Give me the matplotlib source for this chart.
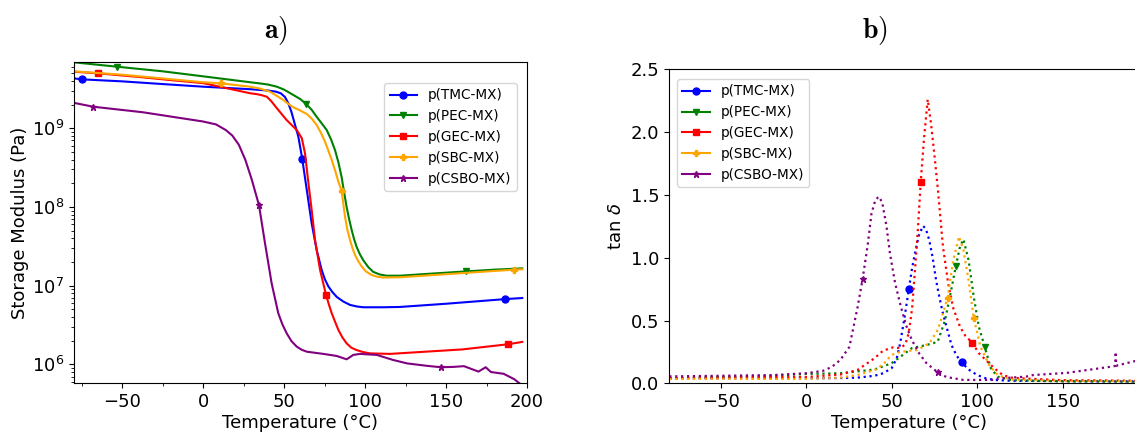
import matplotlib
matplotlib.use("Agg")
import matplotlib.pyplot as plt
from matplotlib.lines import Line2D
from matplotlib.ticker import MultipleLocator

# ---- a) storage modulus (Pa) vs temperature
tmc_T = [-80, -75, -50, -25, 0, 29, 40, 45, 48, 50.5, 52.5, 54.5, 56.5, 58.8, 61.2, 64, 67, 70.1, 73.2, 75.2, 77.3, 79.8, 82.5, 86.5, 90.7, 94.8, 98.9, 111.2, 121.5, 150, 186.6, 197]
tmc_E = [4.32e9, 4.19e9, 3.95e9, 3.65e9, 3.38e9, 3.14e9, 3.02e9, 2.92e9, 2.78e9, 2.5e9, 2.1e9, 1.62e9, 1.15e9, 7.8e8, 4.07e8, 1.64e8, 6.2e7, 2.84e7, 1.58e7, 1.2e7, 9.8e6, 8.3e6, 7.2e6, 6.3e6, 5.7e6, 5.45e6, 5.32e6, 5.32e6, 5.37e6, 5.9e6, 6.76e6, 6.97e6]
pec_T = [-80, -53.3, -25, -2, 29, 35, 40, 45.5, 50, 55.7, 60, 63.5, 67, 70.1, 73, 76.3, 79, 81.4, 83.5, 85.5, 87, 88.6, 90, 91.7, 93.2, 94.8, 96.8, 98.9, 102, 105, 109, 113.3, 121.5, 140, 162.3, 180, 197]
pec_E = [6.9e9, 6.07e9, 5.3e9, 4.63e9, 3.85e9, 3.72e9, 3.6e9, 3.38e9, 3.1e9, 2.65e9, 2.35e9, 2.04e9, 1.72e9, 1.4e9, 1.17e9, 9.5e8, 7.2e8, 5.3e8, 3.7e8, 2.4e8, 1.55e8, 1.0e8, 7.2e7, 5.1e7, 3.9e7, 3.1e7, 2.5e7, 2.1e7, 1.72e7, 1.5e7, 1.39e7, 1.34e7, 1.34e7, 1.42e7, 1.52e7, 1.6e7, 1.66e7]
gec_T = [-80, -65.1, -40, -20, 0, 29, 33, 36, 39.3, 42, 45.5, 51.6, 57.8, 60.9, 62.9, 65, 67, 69.1, 72.2, 75.9, 77.6, 79.4, 81.4, 83.5, 86, 88.6, 91.5, 94.8, 98.5, 103, 115.4, 130, 160, 188, 197]
gec_E = [5.24e9, 5.0e9, 4.5e9, 4.1e9, 3.75e9, 2.79e9, 2.72e9, 2.64e9, 2.52e9, 2.22e9, 1.8e9, 1.27e9, 9.5e8, 7.5e8, 4.8e8, 2.0e8, 9.2e7, 3.8e7, 1.58e7, 7.6e6, 5.8e6, 4.46e6, 3.5e6, 2.74e6, 2.2e6, 1.85e6, 1.63e6, 1.52e6, 1.44e6, 1.38e6, 1.36e6, 1.42e6, 1.55e6, 1.8e6, 1.93e6]
sbc_T = [-80, -50, -25, 0, 11.3, 29, 35, 41.3, 45, 49.5, 52.5, 55.7, 60, 64, 67, 70.1, 72.7, 75.2, 77.3, 79.4, 81.5, 83.5, 85.5, 87.6, 89, 90.7, 92.2, 93.8, 95.8, 97.9, 100.5, 104, 107.5, 111.2, 121.5, 150, 192, 197]
sbc_E = [5.3e9, 4.8e9, 4.3e9, 3.85e9, 3.72e9, 3.38e9, 3.2e9, 2.92e9, 2.62e9, 2.29e9, 2.05e9, 1.85e9, 1.68e9, 1.52e9, 1.33e9, 1.1e9, 8.8e8, 6.8e8, 5.2e8, 3.95e8, 2.9e8, 2.1e8, 1.61e8, 7.5e7, 5.2e7, 3.8e7, 3.0e7, 2.45e7, 2.05e7, 1.75e7, 1.52e7, 1.37e7, 1.3e7, 1.27e7, 1.28e7, 1.4e7, 1.6e7, 1.62e7]
csbo_T = [-80, -67.8, -37.3, 0, 8, 14, 18, 22, 26, 30, 34.5, 38.2, 42.3, 46.4, 49, 51.6, 54.5, 57.8, 61, 64, 74.2, 82.5, 88.6, 92.7, 96.9, 107.2, 117.2, 125.9, 138, 146.8, 154.6, 161, 170, 174.4, 177.7, 185.5, 192, 196]
csbo_E = [2.11e9, 1.88e9, 1.6e9, 1.22e9, 1.12e9, 9.5e8, 8.1e8, 6.2e8, 4.0e8, 2.24e8, 1.05e8, 3.46e7, 1.07e7, 4.46e6, 3.2e6, 2.48e6, 1.98e6, 1.68e6, 1.53e6, 1.45e6, 1.36e6, 1.28e6, 1.16e6, 1.32e6, 1.36e6, 1.32e6, 1.14e6, 1.03e6, 9.6e5, 9.2e5, 9.3e5, 9.5e5, 8.1e5, 9.2e5, 8.0e5, 7.6e5, 6.5e5, 5.6e5]

# temperatures where a marker sits on each curve
tmc_mk = [-75, 61.2, 186.6]
pec_mk = [-53.3, 63.5, 162.3]
gec_mk = [-65.1, 75.9, 188]
sbc_mk = [11.3, 85.5, 192]
csbo_mk = [-67.8, 34.5, 146.8]

# ---- b) tan delta vs temperature
tmc_Tb = [-80, -50, -20, 0, 20, 30, 40, 45, 50, 53, 55, 57.5, 60.1, 62, 64, 66, 68.3, 70, 72, 74, 76, 78, 80, 82.5, 85, 88, 90.9, 95, 100, 105, 110, 120, 150, 200]
tmc_tan = [0.04, 0.04, 0.04, 0.04, 0.042, 0.045, 0.06, 0.08, 0.12, 0.2, 0.32, 0.52, 0.754, 0.92, 1.06, 1.18, 1.253, 1.23, 1.14, 1.0, 0.82, 0.68, 0.557, 0.43, 0.305, 0.22, 0.167, 0.11, 0.066, 0.04, 0.027, 0.02, 0.018, 0.015]
pec_Tb = [-80, -50, -20, 0, 20, 30, 40, 50, 55, 61.8, 70.4, 76.9, 81.2, 84.5, 87.6, 90, 92, 95, 98, 101, 104.4, 108, 112, 120, 150, 200]
pec_tan = [0.04, 0.05, 0.06, 0.075, 0.08, 0.095, 0.11, 0.16, 0.21, 0.28, 0.305, 0.33, 0.5, 0.72, 0.937, 1.09, 1.146, 0.98, 0.69, 0.45, 0.292, 0.12, 0.053, 0.025, 0.015, 0.012]
gec_Tb = [-80, -50, -20, 0, 20, 30, 40, 45, 51, 55, 58, 60, 62, 63.5, 65, 67, 69, 71.1, 73, 75, 77, 80, 83, 86, 90, 93, 97.1, 101, 105, 110, 115, 120, 125, 150, 200]
gec_tan = [0.04, 0.045, 0.05, 0.05, 0.07, 0.106, 0.2, 0.26, 0.287, 0.28, 0.31, 0.4, 0.6, 0.876, 1.15, 1.6, 1.96, 2.26, 2.07, 1.82, 1.55, 1.09, 0.8, 0.6, 0.45, 0.38, 0.324, 0.24, 0.186, 0.12, 0.066, 0.045, 0.04, 0.025, 0.02]
sbc_Tb = [-80, -50, -20, 0, 20, 30, 40, 45, 50, 55, 60, 65, 72, 77, 80, 82.7, 86, 89.4, 92, 95, 98, 102, 107, 112, 120, 150, 200]
sbc_tan = [0.035, 0.035, 0.035, 0.035, 0.045, 0.066, 0.106, 0.15, 0.226, 0.25, 0.258, 0.265, 0.318, 0.425, 0.557, 0.68, 0.98, 1.168, 1.06, 0.82, 0.518, 0.29, 0.146, 0.066, 0.03, 0.02, 0.018]
csbo_Tb = [-80, -50, -20, 0, 10, 15, 20, 25.3, 30, 33, 36, 38.2, 40.5, 42.5, 44.5, 47, 49, 52, 55.4, 58.5, 61.8, 66, 70.4, 76.9, 82, 92, 109, 113.4, 128.5, 132.9, 152.4, 171.9, 179.7, 180.8, 181, 181.3, 192.3, 200]
csbo_tan = [0.055, 0.06, 0.065, 0.08, 0.1, 0.13, 0.186, 0.29, 0.6, 0.828, 1.1, 1.35, 1.46, 1.486, 1.44, 1.25, 1.035, 0.8, 0.61, 0.46, 0.345, 0.24, 0.16, 0.088, 0.05, 0.027, 0.027, 0.04, 0.053, 0.066, 0.083, 0.12, 0.135, 0.14, 0.25, 0.14, 0.177, 0.19]

tmc_mkb = [60.1, 90.9]
pec_mkb = [87.6, 104.4]
gec_mkb = [67, 97.1]
sbc_mkb = [82.7, 98]
csbo_mkb = [33, 76.9]

labels = ['p(TMC-MX)', 'p(PEC-MX)', 'p(GEC-MX)', 'p(SBC-MX)', 'p(CSBO-MX)']
colors = ['blue', 'green', 'red', 'orange', 'purple']
markers = ['o', 'v', 's', 'P', '*']

fig = plt.figure(figsize=(11.35, 4.32), dpi=100)
ax1 = fig.add_axes([0.0648, 0.1127, 0.3996, 0.7431])
ax2 = fig.add_axes([0.5897, 0.1127, 0.4219, 0.7269])

curves_a = [(tmc_T, tmc_E, tmc_mk), (pec_T, pec_E, pec_mk), (gec_T, gec_E, gec_mk),
            (sbc_T, sbc_E, sbc_mk), (csbo_T, csbo_E, csbo_mk)]
for (t, e, mk), lab, c, m in zip(curves_a, labels, colors, markers):
    idx = [t.index(v) for v in mk]
    ax1.plot(t, e, color=c, lw=1.5, marker=m, ms=5, markevery=idx, label=lab)

ax1.set_yscale('log')
ax1.set_xlim(-80, 200)
ax1.set_ylim(5.75e5, 6.9e9)
ax1.xaxis.set_minor_locator(MultipleLocator(25))
ax1.set_xlabel('Temperature (°C)', fontsize=13, labelpad=2)
ax1.set_ylabel('Storage Modulus (Pa)', fontsize=13, labelpad=2)
ax1.tick_params(labelsize=13)
ax1.legend(loc='upper right', bbox_to_anchor=(0.977, 0.936), borderaxespad=0, fontsize=9.8)

curves_b = [(tmc_Tb, tmc_tan, tmc_mkb), (pec_Tb, pec_tan, pec_mkb), (gec_Tb, gec_tan, gec_mkb),
            (sbc_Tb, sbc_tan, sbc_mkb), (csbo_Tb, csbo_tan, csbo_mkb)]
handles = []
for (t, d, mk), lab, c, m in zip(curves_b, labels, colors, markers):
    idx = [t.index(v) for v in mk]
    ax2.plot(t, d, color=c, lw=1.6, ls=':', marker=m, ms=5, markevery=idx)
    handles.append(Line2D([], [], color=c, lw=1.5, marker=m, ms=5, label=lab))

ax2.set_xlim(-80, 200)
ax2.set_ylim(0, 2.5)
ax2.set_xticks([-50, 0, 50, 100, 150])
ax2.set_xlabel('Temperature (°C)', fontsize=13, labelpad=2)
ax2.set_ylabel(r'tan $\delta$', fontsize=13)
ax2.tick_params(labelsize=13)
ax2.legend(handles=handles, loc='upper left', bbox_to_anchor=(0.016, 0.969), borderaxespad=0, fontsize=9.8)

fig.text(0.243, 0.93, r'$\mathbf{a)}$', fontsize=20, ha='center', va='center', math_fontfamily='cm')
fig.text(0.771, 0.93, r'$\mathbf{b)}$', fontsize=20, ha='center', va='center', math_fontfamily='cm')

fig.savefig('out.png', dpi=100)
